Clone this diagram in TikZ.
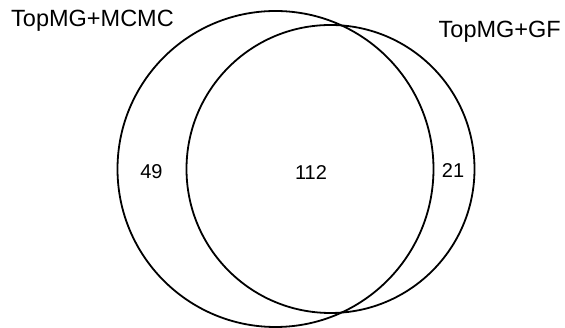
\documentclass[tikz,border=0pt]{standalone}
\usepackage{fontspec}
\setmainfont{Liberation Sans}
\begin{document}
\begin{tikzpicture}[x=1pt,y=1pt,
  setcircle/.style={draw=black,line width=1.8pt},
  setlabel/.style={inner sep=0pt,anchor=base west,font=\fontsize{23.5}{27}\selectfont},
  count/.style={inner sep=0pt,anchor=base,font=\fontsize{20}{24}\selectfont}]
\useasboundingbox (0,0) rectangle (565,328);
\draw[setcircle] (275.5,159) circle[radius=158];
\draw[setcircle] (330.5,159) circle[radius=144];
\node[setlabel] (lA) at (11,301.3) {TopMG+MCMC};
\node[setlabel] (lB) at (438.5,290.7) {TopMG+GF};
\node[count] (nA) at (151.5,149) {49};
\node[count] (nAB) at (311,148.7) {112};
\node[count] (nB) at (453,150) {21};
\end{tikzpicture}
\end{document}
